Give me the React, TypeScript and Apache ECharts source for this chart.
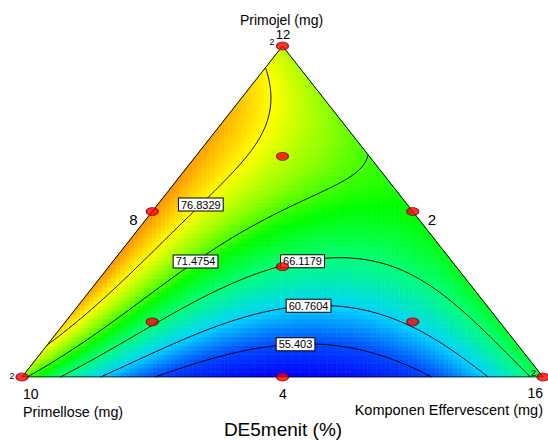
import React, { useEffect, useRef } from "react";
import * as echarts from "echarts";

// ---------------- data ----------------
const contourLevels = [55.403, 60.7604, 66.1179, 71.4754, 76.8329];
const colorRangeMin = 50.0455;
const colorRangeMax = 82.1904;

// Points: fraction of Primojel (top corner) and Komponen Effervescent (right corner)
const tracedPrimojel = [
  [0, 0.045, 0.082, 0.097, 0.082, 0.045, 0],
  [0, 0.057, 0.121, 0.172, 0.215, 0.199, 0.167, 0.097, 0],
  [0, 0.166, 0.218, 0.299, 0.333, 0.363, 0.354, 0.293, 0.163, 0.091, 0.006],
  [0.65, 0.615, 0.58, 0.52, 0.354, 0.293, 0.233, 0.082],
  [0.943, 0.906, 0.816, 0.755, 0.695, 0.647, 0.595, 0.505, 0.293, 0.233, 0.082],
];
const tracedEffervescent = [
  [0.264, 0.331, 0.395, 0.476, 0.606, 0.7, 0.784],
  [0.155, 0.197, 0.261, 0.331, 0.438, 0.547, 0.667, 0.77, 0.889],
  [0.073, 0.167, 0.212, 0.286, 0.333, 0.433, 0.489, 0.62, 0.775, 0.869, 0.974],
  [0.346, 0.322, 0.299, 0.253, 0.164, 0.142, 0.109, 0.044],
  [0, 0.023, 0.066, 0.087, 0.108, 0.113, 0.1, 0.088, 0.045, 0.027, 0.011],
];

// Estimated response at further blends (read from the colour field)
const blendPrimojel = [1, 0, 0, 0, 0.5, 0.3, 0.7, 0.15, 0.85, 0.5, 0.25, 0.85, 0.667, 0.6, 0.75];
const blendEffervescent = [0, 0, 1, 0.5, 0, 0, 0, 0, 0, 0.5, 0.75, 0.15, 0.167, 0.4, 0.25];
const blendValue = [74.5, 71.8, 68, 49.5, 81, 80.5, 80, 79, 78.5, 70, 68.6, 73.3, 74, 71.0, 72.4];

// Design points
const designPrimojel = [1, 0, 0, 0.5, 0.5, 0, 1 / 3, 2 / 3, 1 / 6, 1 / 6];
const designEffervescent = [0, 0, 1, 0, 0.5, 0.5, 1 / 3, 1 / 6, 1 / 6, 2 / 3];

// Texts
const contourLabelTexts = ["55.403", "60.7604", "66.1179", "71.4754", "76.8329"];
const titleText = "DE5menit (%)";
const topName = "Primojel (mg)";
const leftName = "Primellose (mg)";
const rightName = "Komponen Effervescent (mg)";
const topMax = "12";
const leftMax = "10";
const rightMax = "16";
const cornerMin = "2";
const leftEdgeTick = "8";
const rightEdgeTick = "2";
const bottomEdgeTick = "4";

// ---------------- layout / style ----------------
const FONT = '"Liberation Sans", Arial, sans-serif';
const labelTargets = [
  [0.526, 0.115],
  [0.549, 0.233],
  [0.537, 0.366],
  [0.33, 0.356],
  [0.3455, 0.52],
];
const colorStops: [number, number[]][] = [
  [0, [0, 0, 255]],
  [0.17, [0, 70, 255]],
  [0.33, [0, 210, 255]],
  [0.5, [0, 255, 120]],
  [0.62, [0, 255, 0]],
  [0.72, [140, 255, 0]],
  [0.83, [255, 255, 0]],
  [1, [255, 110, 0]],
];

// ---------------- model fit ----------------
function basis(a: number, b: number, c: number): number[] {
  return [
    a, b, c, a * b, a * c, b * c,
    a * b * (a - b), a * c * (a - c), b * c * (b - c),
    a * b * (a - b) * (a - b), a * c * (a - c) * (a - c), b * c * (b - c) * (b - c),
    a * a * b * c, a * b * b * c, a * b * c * c,
  ];
}

function fitModel(): number[] {
  const obs: number[][] = [];
  contourLevels.forEach((lv, k) => {
    tracedPrimojel[k].forEach((a, i) => obs.push([a, tracedEffervescent[k][i], lv]));
  });
  blendPrimojel.forEach((a, i) => obs.push([a, blendEffervescent[i], blendValue[i]]));
  const n = 15;
  const M: number[][] = Array.from({ length: n }, () => new Array(n).fill(0));
  const v: number[] = new Array(n).fill(0);
  obs.forEach(([a, c, y]) => {
    const b = 1 - a - c;
    const p = basis(a, b, c);
    for (let i = 0; i < n; i++) {
      v[i] += p[i] * y;
      for (let j = 0; j < n; j++) M[i][j] += p[i] * p[j];
    }
  });
  for (let i = 0; i < n; i++) M[i][i] += 1e-9;
  for (let col = 0; col < n; col++) {
    let piv = col;
    for (let r = col + 1; r < n; r++) if (Math.abs(M[r][col]) > Math.abs(M[piv][col])) piv = r;
    [M[col], M[piv]] = [M[piv], M[col]];
    [v[col], v[piv]] = [v[piv], v[col]];
    for (let r = col + 1; r < n; r++) {
      const f = M[r][col] / M[col][col];
      for (let k = col; k < n; k++) M[r][k] -= f * M[col][k];
      v[r] -= f * v[col];
    }
  }
  const x = new Array(n).fill(0);
  for (let r = n - 1; r >= 0; r--) {
    let s = v[r];
    for (let k = r + 1; k < n; k++) s -= M[r][k] * x[k];
    x[r] = s / M[r][r];
  }
  return x;
}

const coef = fitModel();
function predict(a: number, c: number): number {
  const b = 1 - a - c;
  let aa = Math.max(0, a), bb = Math.max(0, b), cc = Math.max(0, c);
  const s = aa + bb + cc;
  aa /= s; bb /= s; cc /= s;
  const p = basis(aa, bb, cc);
  let y = 0;
  for (let i = 0; i < p.length; i++) y += coef[i] * p[i];
  return y;
}

function colorFor(v: number): string {
  let t = (v - colorRangeMin) / (colorRangeMax - colorRangeMin);
  t = Math.max(0, Math.min(1, t));
  for (let i = 1; i < colorStops.length; i++) {
    if (t <= colorStops[i][0]) {
      const [t0, c0] = colorStops[i - 1];
      const [t1, c1] = colorStops[i];
      const f = (t - t0) / (t1 - t0);
      const r = Math.round(c0[0] + f * (c1[0] - c0[0]));
      const g = Math.round(c0[1] + f * (c1[1] - c0[1]));
      const bl = Math.round(c0[2] + f * (c1[2] - c0[2]));
      return `rgb(${r},${g},${bl})`;
    }
  }
  return "rgb(255,110,0)";
}

// ternary -> plane (X = c + a/2, Y = a)
const toXY = (a: number, c: number) => [c + a / 2, a];

// ---------------- colour cells ----------------
function clipHalf(poly: number[][], g: (p: number[]) => number): number[][] {
  const out: number[][] = [];
  for (let i = 0; i < poly.length; i++) {
    const P = poly[i], Q = poly[(i + 1) % poly.length];
    const gp = g(P), gq = g(Q);
    if (gp >= 0) out.push(P);
    if ((gp >= 0) !== (gq >= 0)) {
      const t = gp / (gp - gq);
      out.push([P[0] + t * (Q[0] - P[0]), P[1] + t * (Q[1] - P[1])]);
    }
  }
  return out;
}
const NX = 116, NY = 74;
type Cell = { pts: number[][]; color: string };
const cells: Cell[] = [];
for (let i = 0; i < NX; i++) {
  for (let j = 0; j < NY; j++) {
    const x0 = i / NX, x1 = (i + 1) / NX, y0 = j / NY, y1 = (j + 1) / NY;
    let poly = [[x0, y0], [x1, y0], [x1, y1], [x0, y1]];
    poly = clipHalf(poly, (p) => p[0] - p[1] / 2);
    if (poly.length < 3) continue;
    poly = clipHalf(poly, (p) => 1 - p[0] - p[1] / 2);
    if (poly.length < 3) continue;
    const xc = (x0 + x1) / 2, yc = (y0 + y1) / 2;
    const a = yc, c = xc - yc / 2;
    cells.push({ pts: poly, color: colorFor(predict(a, c)) });
  }
}

// ---------------- contour lines (marching triangles) ----------------
const NT = 160;
const nodeVal: number[][] = [];
for (let i = 0; i <= NT; i++) {
  nodeVal.push([]);
  for (let j = 0; j <= NT - i; j++) nodeVal[i].push(predict(i / NT, j / NT));
}
const contourSegs: number[][][] = contourLevels.map(() => []);
function triSeg(p: number[][], k: number) {
  const L = contourLevels[k];
  const pts: number[][] = [];
  for (let e = 0; e < 3; e++) {
    const A = p[e], B = p[(e + 1) % 3];
    if ((A[2] > L) !== (B[2] > L)) {
      const t = (L - A[2]) / (B[2] - A[2]);
      const a = A[0] + t * (B[0] - A[0]);
      const c = A[1] + t * (B[1] - A[1]);
      pts.push(toXY(a, c));
    }
  }
  if (pts.length === 2) contourSegs[k].push([pts[0][0], pts[0][1], pts[1][0], pts[1][1]]);
}
for (let i = 0; i < NT; i++) {
  for (let j = 0; j < NT - i; j++) {
    const P0 = [i / NT, j / NT, nodeVal[i][j]];
    const P1 = [(i + 1) / NT, j / NT, nodeVal[i + 1][j]];
    const P2 = [i / NT, (j + 1) / NT, nodeVal[i][j + 1]];
    for (let k = 0; k < contourLevels.length; k++) triSeg([P0, P1, P2], k);
    if (i + j < NT - 1) {
      const P3 = [(i + 1) / NT, (j + 1) / NT, nodeVal[i + 1][j + 1]];
      for (let k = 0; k < contourLevels.length; k++) triSeg([P1, P3, P2], k);
    }
  }
}
const labelPoints = contourLevels.map((_, k) => {
  const [tx, ty] = labelTargets[k];
  let best = [tx, ty], bd = Infinity;
  contourSegs[k].forEach((s) => {
    const mx = (s[0] + s[2]) / 2, my = (s[1] + s[3]) / 2;
    const d = (mx - tx) ** 2 * 2.5 + (my - ty) ** 2;
    if (d < bd) { bd = d; best = [mx, my]; }
  });
  return [best[0], best[1], k];
});

// ---------------- component ----------------
export default function App() {
  const ref = useRef<HTMLDivElement>(null);
  useEffect(() => {
    if (!ref.current) return;
    const chart = echarts.init(ref.current, null, { renderer: "svg" });
    const txt = (text: string, x: number, y: number, size: number, align = "center") => ({
      type: "text",
      x,
      y,
      z: 100,
      style: { text, fill: "#000", font: `${size}px ${FONT}`, align, verticalAlign: "middle" },
    });
    const option: any = {
      animation: false,
      backgroundColor: "#fff",
      grid: { left: 22, right: 5, top: 46, bottom: 64 },
      xAxis: { type: "value", min: 0, max: 1, show: false },
      yAxis: { type: "value", min: 0, max: 1, show: false },
      series: [
        {
          type: "custom",
          name: "surface",
          silent: true,
          z: 1,
          clip: false,
          data: cells.map((c, i) => [c.pts[0][0], c.pts[0][1], i]),
          renderItem: (params: any, api: any) => {
            const cell = cells[params.dataIndex];
            const points = cell.pts.map((p) => api.coord(p));
            return {
              type: "polygon",
              shape: { points },
              style: { fill: cell.color, stroke: cell.color, lineWidth: 0.6 },
            };
          },
        },
        {
          type: "custom",
          name: "contours",
          silent: true,
          z: 2,
          clip: false,
          data: contourLevels.map((_, k) => [0.5, 0.5, k]),
          renderItem: (params: any, api: any) => {
            const segs = contourSegs[params.dataIndex];
            return {
              type: "group",
              children: segs.map((s) => {
                const p1 = api.coord([s[0], s[1]]);
                const p2 = api.coord([s[2], s[3]]);
                return {
                  type: "line",
                  shape: { x1: p1[0], y1: p1[1], x2: p2[0], y2: p2[1] },
                  style: { stroke: "#000", lineWidth: 1 },
                };
              }),
            };
          },
        },
        {
          type: "line",
          name: "edges",
          silent: true,
          z: 3,
          symbol: "none",
          data: [toXY(0, 0), toXY(0, 1), toXY(1, 0), toXY(0, 0)],
          lineStyle: { color: "#000", width: 1 },
        },
        {
          type: "custom",
          name: "contourLabels",
          silent: true,
          z: 4,
          clip: false,
          data: labelPoints,
          renderItem: (params: any, api: any) => {
            const p = api.coord([api.value(0), api.value(1)]);
            return {
              type: "text",
              x: p[0],
              y: p[1],
              style: {
                text: contourLabelTexts[params.dataIndex],
                fill: "#000",
                font: `11px ${FONT}`,
                align: "center",
                verticalAlign: "middle",
                backgroundColor: "#fff",
                borderColor: "#000",
                borderWidth: 1,
                padding: [1, 2, 0, 2],
              },
            };
          },
        },
        {
          type: "scatter",
          name: "design",
          silent: true,
          z: 5,
          symbol: "circle",
          symbolSize: [12, 8],
          itemStyle: { color: "#ff0000", borderColor: "#7a0000", borderWidth: 1 },
          data: designPrimojel.map((a, i) => toXY(a, designEffervescent[i])),
        },
      ],
      graphic: [
        txt(topName, 281.5, 20, 14),
        txt(topMax, 283, 34, 13),
        txt(cornerMin, 272, 42, 9),
        txt(cornerMin, 12, 376, 9),
        txt(cornerMin, 533.5, 373, 9),
        txt(leftEdgeTick, 133.5, 219, 15),
        txt(rightEdgeTick, 432, 219, 15),
        txt(leftMax, 23, 394, 14, "left"),
        txt(bottomEdgeTick, 283, 394, 14),
        txt(rightMax, 543, 393, 14, "right"),
        txt(leftName, 23, 411.5, 14.3, "left"),
        txt(rightName, 543, 410, 14.5, "right"),
        txt(titleText, 283, 429.5, 19),
      ],
    };
    chart.setOption(option);
    return () => chart.dispose();
  }, []);
  return (
    <div
      ref={ref}
      style={{ position: "fixed", left: 0, top: 0, width: 548, height: 441, background: "#fff" }}
    />
  );
}
